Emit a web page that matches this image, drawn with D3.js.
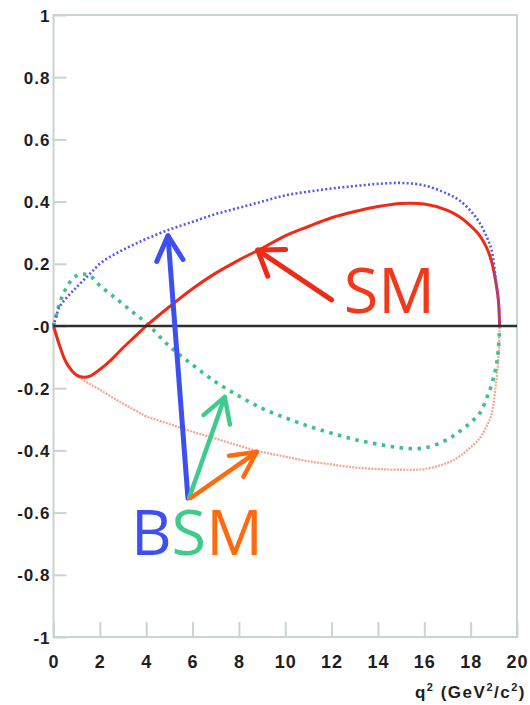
<!DOCTYPE html>
<html>
<head>
<meta charset="utf-8">
<script src="https://cdn.jsdelivr.net/npm/d3@7"></script>
<style>
  html, body { margin: 0; padding: 0; background: #fff; }
  svg { display: block; }
</style>
</head>
<body>
<svg id="chart" width="530" height="705"></svg>
<script>
// q² sampling points (GeV²/c²) for each curve
const q2 = [0, 0.25, 0.5, 0.8, 1.0, 1.3, 1.6, 2, 2.5, 3, 3.5, 4, 5, 6, 7, 8, 9, 10, 11, 12, 13, 14, 15, 16, 17, 17.5, 18, 18.4, 18.7, 18.9, 19.1, 19.2, 19.25];

// SM prediction (solid red)
const smValues = [0, -0.06, -0.11, -0.145, -0.158, -0.165, -0.16, -0.14, -0.108, -0.07, -0.035, 0, 0.062, 0.12, 0.17, 0.212, 0.25, 0.29, 0.32, 0.348, 0.368, 0.384, 0.394, 0.392, 0.372, 0.352, 0.322, 0.29, 0.25, 0.208, 0.135, 0.08, 0];

// BSM scenario curves (dotted)
const bsmBlue = [0, 0.06, 0.085, 0.11, 0.125, 0.148, 0.17, 0.2, 0.225, 0.245, 0.263, 0.28, 0.31, 0.335, 0.36, 0.38, 0.4, 0.42, 0.432, 0.442, 0.45, 0.457, 0.46, 0.452, 0.425, 0.405, 0.37, 0.33, 0.285, 0.245, 0.14, 0.08, 0];
const bsmGreen = [0, 0.07, 0.115, 0.15, 0.162, 0.167, 0.16, 0.13, 0.1, 0.07, 0.04, 0.01, -0.065, -0.125, -0.18, -0.225, -0.265, -0.295, -0.322, -0.345, -0.365, -0.38, -0.392, -0.392, -0.365, -0.34, -0.31, -0.28, -0.23, -0.19, -0.13, -0.07, 0];
const bsmOrange = [0, -0.06, -0.11, -0.145, -0.16, -0.175, -0.188, -0.205, -0.228, -0.25, -0.27, -0.29, -0.315, -0.34, -0.362, -0.385, -0.405, -0.42, -0.435, -0.445, -0.455, -0.46, -0.462, -0.46, -0.44, -0.42, -0.39, -0.36, -0.32, -0.285, -0.18, -0.1, 0];

// axis ticks
const xTicks = [0, 2, 4, 6, 8, 10, 12, 14, 16, 18, 20];
const xTickLabels = ["0", "2", "4", "6", "8", "10", "12", "14", "16", "18", "20"];
const yTicks = [1, 0.8, 0.6, 0.4, 0.2, 0, -0.2, -0.4, -0.6, -0.8, -1];
const yTickLabels = ["1", "0.8", "0.6", "0.4", "0.2", "-0", "-0.2", "-0.4", "-0.6", "-0.8", "-1"];

// annotation arrows: [tail q², tail value] -> [tip q², tip value]
const arrowSM = { from: [12.0, 0.084], to: [8.81, 0.244] };
const arrowBlue = { from: [5.8, -0.553], to: [4.94, 0.29] };
const arrowGreen = { from: [5.85, -0.553], to: [7.39, -0.228] };
const arrowOrange = { from: [5.92, -0.553], to: [8.77, -0.405] };

const colors = {
  sm: "#ef2a17",
  smLabel: "#f2391c",
  blue: "#5656f2",
  green: "#3fbf8a",
  orange: "#f7a48c",
  arrowBlue: "#3d4ff0",
  arrowGreen: "#3fcb8c",
  arrowOrange: "#ff6a0d",
  frame: "#c9d4d2",
  zero: "#2b302f",
  text: "#1e1e1e"
};

const labelFont = "Liberation Sans, Arial, sans-serif";

const svg = d3.select("#chart");
const x = d3.scaleLinear().domain([0, 20]).range([53.5, 517]);
const y = d3.scaleLinear().domain([-1, 1]).range([637, 15]);

// frame
svg.append("rect")
  .attr("x", x(0)).attr("y", y(1))
  .attr("width", x(20) - x(0)).attr("height", y(-1) - y(1))
  .attr("fill", "none").attr("stroke", colors.frame).attr("stroke-width", 2);

// y axis ticks (inward) and labels
const yAxis = d3.axisLeft(y)
  .tickValues(yTicks)
  .tickSize(-13)
  .tickPadding(4)
  .tickFormat((d, i) => yTickLabels[i]);
const gy = svg.append("g").attr("transform", `translate(${x(0)},0)`).call(yAxis);
gy.select(".domain").remove();
gy.selectAll(".tick line").attr("stroke", colors.frame).attr("stroke-width", 2);
gy.selectAll(".tick text")
  .attr("font-family", labelFont)
  .attr("font-weight", "bold").attr("font-size", 17)
  .attr("letter-spacing", 1)
  .attr("fill", colors.text).attr("x", -3).attr("dy", "0.36em");

// x axis ticks (inward) and labels
const xAxis = d3.axisBottom(x)
  .tickValues(xTicks)
  .tickSize(-15)
  .tickPadding(0)
  .tickFormat((d, i) => xTickLabels[i]);
const gx = svg.append("g").attr("transform", `translate(0,${y(-1)})`).call(xAxis);
gx.select(".domain").remove();
gx.selectAll(".tick line").attr("stroke", colors.frame).attr("stroke-width", 2);
gx.selectAll(".tick text")
  .attr("font-family", labelFont)
  .attr("font-weight", "bold").attr("font-size", 18)
  .attr("letter-spacing", 1)
  .attr("fill", colors.text).attr("y", 31).attr("dy", null);

// x axis title
const title = svg.append("text")
  .attr("x", 526).attr("y", 698)
  .attr("text-anchor", "end")
  .attr("font-family", labelFont)
  .attr("font-weight", "bold").attr("font-size", 17)
  .attr("letter-spacing", 1.5)
  .attr("fill", colors.text);
title.append("tspan").text("q");
title.append("tspan").attr("font-size", 11).attr("dy", -7).text("2");
title.append("tspan").attr("dy", 7).text(" (GeV");
title.append("tspan").attr("font-size", 11).attr("dy", -7).text("2");
title.append("tspan").attr("dy", 7).text("/c");
title.append("tspan").attr("font-size", 11).attr("dy", -7).text("2");
title.append("tspan").attr("dy", 7).text(")");

// curves
const line = d3.line()
  .x((d, i) => x(q2[i]))
  .y(d => y(d))
  .curve(d3.curveCatmullRom.alpha(0.5));

svg.append("path").datum(bsmOrange)
  .attr("d", line).attr("fill", "none")
  .attr("stroke", colors.orange).attr("stroke-width", 2.2)
  .attr("stroke-dasharray", "2 1.2");

svg.append("path").datum(bsmGreen)
  .attr("d", line).attr("fill", "none")
  .attr("stroke", colors.green).attr("stroke-width", 3.6)
  .attr("stroke-dasharray", "3.5 5.5");

svg.append("path").datum(smValues)
  .attr("d", line).attr("fill", "none")
  .attr("stroke", colors.sm).attr("stroke-width", 3)
  .attr("stroke-linejoin", "round");

svg.append("path").datum(bsmBlue)
  .attr("d", line).attr("fill", "none")
  .attr("stroke", colors.blue).attr("stroke-width", 2.6)
  .attr("stroke-dasharray", "2 2.3");

// zero line
svg.append("line")
  .attr("x1", x(0)).attr("x2", x(20))
  .attr("y1", y(0)).attr("y2", y(0))
  .attr("stroke", colors.zero).attr("stroke-width", 2.6);

// arrow with open chevron head
function drawArrow(a, color, width, headLen, headAngle) {
  const x1 = x(a.from[0]), y1 = y(a.from[1]);
  const x2 = x(a.to[0]), y2 = y(a.to[1]);
  const ang = Math.atan2(y1 - y2, x1 - x2);
  const g = svg.append("g")
    .attr("stroke", color).attr("stroke-width", width)
    .attr("stroke-linecap", "round").attr("stroke-linejoin", "round")
    .attr("fill", "none");
  g.append("line").attr("x1", x1).attr("y1", y1).attr("x2", x2).attr("y2", y2);
  const pts = [
    [x2 + headLen * Math.cos(ang - headAngle), y2 + headLen * Math.sin(ang - headAngle)],
    [x2, y2],
    [x2 + headLen * Math.cos(ang + headAngle), y2 + headLen * Math.sin(ang + headAngle)]
  ];
  g.append("path").attr("d", d3.line()(pts));
}

const deg = Math.PI / 180;
drawArrow(arrowSM, colors.sm, 5, 28, 35 * deg);
drawArrow(arrowBlue, colors.arrowBlue, 5, 28, 28 * deg);
drawArrow(arrowGreen, colors.arrowGreen, 4.5, 28, 30 * deg);
drawArrow(arrowOrange, colors.arrowOrange, 4.5, 28, 27 * deg);

// labels
svg.append("text")
  .attr("x", x(12.52)).attr("y", y(0.042))
  .attr("font-family", "Open Sans, sans-serif").attr("font-size", 63)
  .attr("fill", colors.smLabel).text("SM");

const bsm = svg.append("text")
  .attr("x", x(3.34)).attr("y", y(-0.736))
  .attr("font-family", "Open Sans, sans-serif").attr("font-size", 63);
bsm.append("tspan").attr("fill", colors.arrowBlue).text("B");
bsm.append("tspan").attr("fill", colors.arrowGreen).text("S");
bsm.append("tspan").attr("fill", colors.arrowOrange).text("M");
</script>
</body>
</html>
